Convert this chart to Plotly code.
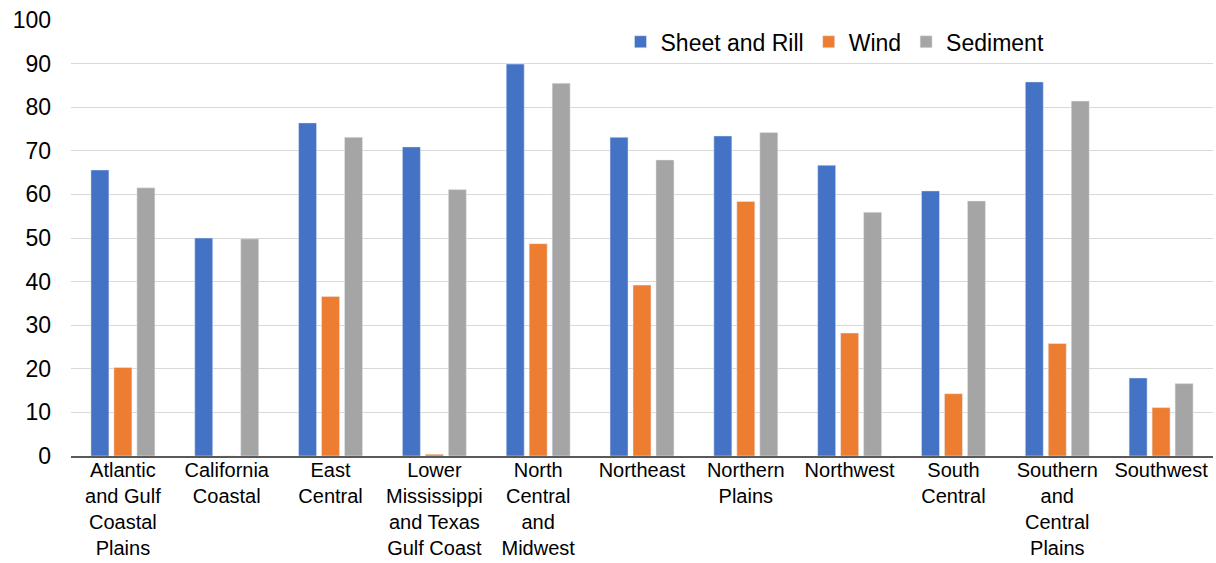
import plotly.graph_objects as go

categories = [
    "Atlantic<br>and Gulf<br>Coastal<br>Plains",
    "California<br>Coastal",
    "East<br>Central",
    "Lower<br>Mississippi<br>and Texas<br>Gulf Coast",
    "North<br>Central<br>and<br>Midwest",
    "Northeast",
    "Northern<br>Plains",
    "Northwest",
    "South<br>Central",
    "Southern<br>and<br>Central<br>Plains",
    "Southwest",
]
sheet_and_rill = [65.6, 50.0, 76.4, 70.9, 89.9, 73.1, 73.4, 66.7, 60.8, 85.8, 17.9]
wind = [20.3, 0.0, 36.6, 0.4, 48.7, 39.2, 58.4, 28.2, 14.3, 25.8, 11.1]
sediment = [61.5, 49.8, 73.1, 61.1, 85.5, 67.9, 74.2, 55.9, 58.5, 81.4, 16.6]
y_ticks = [0, 10, 20, 30, 40, 50, 60, 70, 80, 90, 100]

fig = go.Figure()
fig.add_trace(go.Bar(name="Sheet and Rill", x=categories, y=sheet_and_rill, marker_color="#4472C4"))
fig.add_trace(go.Bar(name="Wind", x=categories, y=wind, marker_color="#ED7D31"))
fig.add_trace(go.Bar(name="Sediment", x=categories, y=sediment, marker_color="#A5A5A5"))

fig.update_layout(
    width=1216, height=563,
    margin=dict(l=71, r=3, t=20, b=107, autoexpand=False),
    paper_bgcolor="white", plot_bgcolor="white",
    barmode="group", bargap=0.336, bargroupgap=0.217,
    font=dict(family="Liberation Sans, Arial, sans-serif", color="#000000"),
    legend=dict(orientation="h", x=0.669, xanchor="center", y=0.95, yanchor="middle",
                font=dict(size=23), bgcolor="rgba(0,0,0,0)", traceorder="normal"),
)
fig.update_yaxes(range=[0, 100], tickvals=y_ticks, showgrid=True, gridcolor="#D9D9D9", gridwidth=1,
                 zeroline=False, showline=False, tickfont=dict(size=23), ticklabelstandoff=19,
                 automargin=False)
fig.update_xaxes(showline=True, linecolor="#595959", linewidth=1.5, ticks="", automargin=False,
                 tickfont=dict(size=20), ticklabelstandoff=-5)

fig.write_html("out.html",
               config={"displayModeBar": False},
               post_script="document.body.style.margin='0';document.body.style.overflow='hidden';")
